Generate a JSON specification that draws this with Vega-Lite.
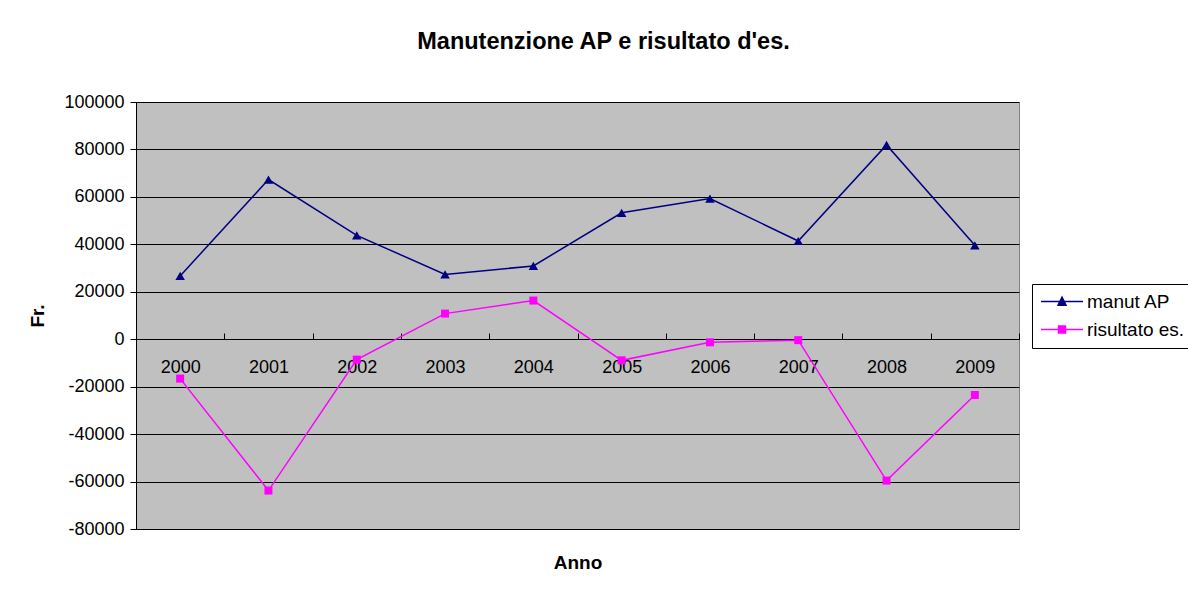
{
  "$schema": "https://vega.github.io/schema/vega-lite/v6.json",
  "width": 883,
  "height": 427,
  "autosize": {"type": "none"},
  "padding": {"left": 136, "top": 102, "right": 169, "bottom": 61},
  "background": "white",
  "title": {
    "text": "Manutenzione AP e risultato d'es.",
    "font": "Liberation Sans",
    "fontSize": 23.5,
    "fontWeight": "bold",
    "color": "black",
    "anchor": "middle",
    "dx": 26,
    "offset": 40
  },
  "config": {
    "view": {"fill": "#C0C0C0", "stroke": "#808080", "strokeWidth": 1},
    "font": "Liberation Sans"
  },
  "data": {
    "values": [
      {"anno": "2000", "serie": "manut AP", "valore": 26700},
      {"anno": "2001", "serie": "manut AP", "valore": 67300},
      {"anno": "2002", "serie": "manut AP", "valore": 43800},
      {"anno": "2003", "serie": "manut AP", "valore": 27300},
      {"anno": "2004", "serie": "manut AP", "valore": 30900},
      {"anno": "2005", "serie": "manut AP", "valore": 53300},
      {"anno": "2006", "serie": "manut AP", "valore": 59300},
      {"anno": "2007", "serie": "manut AP", "valore": 41400},
      {"anno": "2008", "serie": "manut AP", "valore": 81900},
      {"anno": "2009", "serie": "manut AP", "valore": 39600},
      {"anno": "2000", "serie": "risultato es.", "valore": -16600},
      {"anno": "2001", "serie": "risultato es.", "valore": -63800},
      {"anno": "2002", "serie": "risultato es.", "valore": -8600},
      {"anno": "2003", "serie": "risultato es.", "valore": 10800},
      {"anno": "2004", "serie": "risultato es.", "valore": 16300},
      {"anno": "2005", "serie": "risultato es.", "valore": -8900},
      {"anno": "2006", "serie": "risultato es.", "valore": -1300},
      {"anno": "2007", "serie": "risultato es.", "valore": -400},
      {"anno": "2008", "serie": "risultato es.", "valore": -59600},
      {"anno": "2009", "serie": "risultato es.", "valore": -23500}
    ]
  },
  "encoding": {
    "x": {
      "field": "anno",
      "type": "nominal",
      "scale": {"type": "band", "paddingInner": 0, "paddingOuter": 0},
      "axis": {
        "orient": "bottom",
        "offset": -190,
        "labelAngle": 0,
        "labelFontSize": 18,
        "labelColor": "black",
        "labelPadding": 25,
        "tickBand": "extent",
        "tickSize": -6,
        "tickColor": "black",
        "domainColor": "black",
        "grid": false,
        "title": "Anno",
        "titleFontSize": 19,
        "titleFontWeight": "bold",
        "titleColor": "black",
        "titleY": 223,
        "titleBaseline": "middle"
      }
    },
    "y": {
      "field": "valore",
      "type": "quantitative",
      "scale": {"domain": [-80000, 100000], "nice": false, "zero": false},
      "axis": {
        "values": [-80000, -60000, -40000, -20000, 0, 20000, 40000, 60000, 80000, 100000],
        "labelExpr": "datum.value + ''",
        "labelFontSize": 18,
        "labelColor": "black",
        "labelPadding": 6,
        "tickSize": 6,
        "tickColor": "black",
        "domainColor": "black",
        "grid": true,
        "gridColor": "black",
        "gridOpacity": 1,
        "title": "Fr.",
        "titleFontSize": 19,
        "titleFontWeight": "bold",
        "titleColor": "black",
        "titlePadding": 16
      }
    },
    "color": {
      "field": "serie",
      "type": "nominal",
      "scale": {"domain": ["manut AP", "risultato es."], "range": ["#000080", "#FF00FF"]},
      "legend": {
        "title": null,
        "orient": "none",
        "legendX": 896,
        "legendY": 182,
        "padding": 8,
        "strokeColor": "black",
        "fillColor": "white",
        "labelFontSize": 19,
        "labelColor": "black",
        "labelOffset": 28,
        "symbolSize": 100,
        "symbolStrokeWidth": 1.5,
        "rowPadding": 8
      }
    }
  },
  "layer": [
    {
      "mark": {"type": "line", "strokeWidth": 1.5}
    },
    {
      "mark": {"type": "point", "filled": false, "opacity": 1, "size": 0, "strokeWidth": 1.5},
      "encoding": {
        "shape": {
          "field": "serie",
          "type": "nominal",
          "scale": {
            "domain": ["manut AP", "risultato es."],
            "range": ["M-1.7,0H6.7M1.7,0.75L2.5,-0.85L3.3,0.75Z", "M-1.7,0H6.7M1.8,-0.7H3.2V0.7H1.8Z"]
          }
        }
      }
    },
    {
      "transform": [{"filter": "datum.serie === 'manut AP'"}],
      "mark": {"type": "point", "filled": true, "opacity": 1, "size": 90, "shape": "triangle-up"}
    },
    {
      "transform": [{"filter": "datum.serie === 'risultato es.'"}],
      "mark": {"type": "point", "filled": true, "opacity": 1, "size": 64, "shape": "square"}
    }
  ]
}
